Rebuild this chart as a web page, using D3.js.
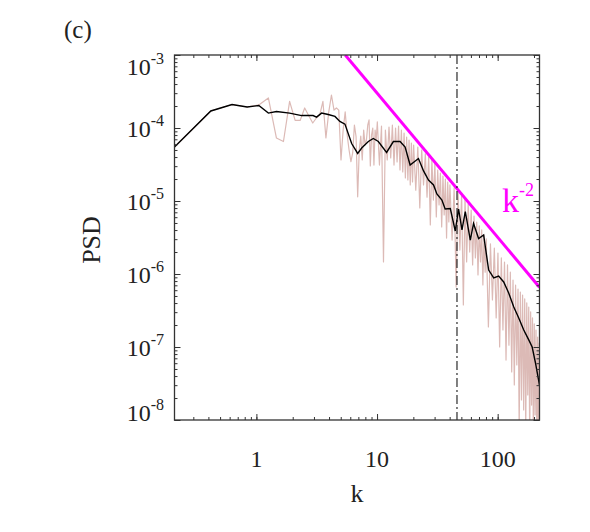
<!DOCTYPE html>
<html><head><meta charset="utf-8">
<script src="https://cdn.jsdelivr.net/npm/d3@7"></script>
<style>body{margin:0;background:#fff}</style>
</head><body><svg id="c" width="590" height="532"></svg>
<script>
// ---- data ----
const dk = 2 * Math.PI / 30;            // wavenumber spacing
const rawModes = [
  1,2,3,4,5,6,7,8,9,10,11,12,13,14,15,16,17,18,19,20,21,22,23,24,25,26,27,28,29,30,
  31,32,33,34,35,36,37,38,39,40,41,42,43,44,45,46,47,
  48,50,52,54,56,58,60,62,64,66,68,70,72,74,76,78,80,82,84,86,88,90,92,94,
  96,100,104,108,112,116,120,124,128,132,136,140,144,148,152,156,160,164,168,172,176,180,184,188,192,
  200,208,216,224,232,240,248,256,264,272,280,288,296,304,312,320,328,336,344,352,360,368,376,384,
  400,416,432,448,464,480,496,512,528,544,560,576,592,608,624,640,656,672,688,704,720,736,752,768,
  784,800,816,832,848,864,880,896,912,928,944,960,976,992,1008,1024,1040,1056,1060
];
const rawPSD = [
  5.5e-5,1.71e-4,2.10e-4,1.94e-4,2.07e-4,2.58e-4,7.29e-5,6.53e-5,2.31e-4,1.27e-4,
  1.27e-4,1.88e-4,1.46e-4,1.17e-4,1.37e-4,1.51e-4,2.31e-4,7.29e-5,1.66e-4,2.83e-4,
  1.76e-4,1.88e-4,1.76e-4,3.65e-5,9.39e-5,1.66e-4,8.02e-5,5.00e-5,3.45e-5,4.55e-5,
  1.10e-4,7.60e-5,1.14e-5,5.00e-5,7.77e-5,3.65e-5,9.39e-5,5.85e-5,6.85e-5,1.10e-4,
  1.29e-4,3.02e-5,8.02e-5,1.00e-4,3.11e-5,9.39e-5,6.85e-5,
  1.21e-4,3.11e-5,1.06e-4,1.46e-6,9.39e-5,3.65e-5,1.03e-4,3.88e-5,1.10e-4,3.11e-5,
  1.00e-4,3.42e-5,1.06e-4,2.66e-5,9.39e-5,2.50e-5,8.54e-5,2.07e-5,7.53e-5,1.94e-5,
  6.85e-5,1.66e-5,6.23e-5,1.82e-5,
  5.85e-5,1.41e-5,5.49e-5,8.02e-6,5.00e-5,1.66e-5,4.41e-5,1.13e-5,4.01e-5,4.69e-6,
  3.65e-5,1.03e-5,3.21e-5,6.04e-6,2.66e-5,8.82e-6,2.42e-5,4.41e-6,2.20e-5,6.43e-6,
  2.00e-5,3.11e-6,1.82e-5,5.16e-6,1.66e-5,
  2.92e-6,1.51e-5,6.63e-7,1.41e-5,2.13e-6,1.25e-5,3.76e-7,1.10e-5,1.46e-6,9.10e-6,
  2.00e-6,7.53e-6,1.33e-6,6.23e-6,1.66e-6,5.16e-6,9.69e-7,4.55e-6,1.46e-6,4.01e-6,
  7.07e-7,3.42e-6,1.06e-6,3.02e-6,
  1.88e-7,2.58e-6,4.41e-7,2.27e-6,2.50e-7,1.94e-6,1.00e-7,1.66e-6,1.71e-7,1.46e-6,
  6.63e-8,1.33e-6,1.06e-7,1.06e-6,4.55e-8,8.28e-7,3.02e-8,7.07e-7,5.67e-8,6.23e-7,
  7.29e-9,5.67e-7,1.88e-8,5.16e-7,1.37e-8,4.55e-7,7.29e-9,4.01e-7,2.20e-8,3.53e-7,
  5.32e-9,3.02e-7,1.60e-8,2.50e-7,6.23e-9,2.07e-7,1.17e-8,1.71e-7,5.32e-9,1.37e-7,
  4.55e-9,1.13e-7,7.29e-9
];
const smoothK = [
  0.2094,0.419,0.628,0.838,1.047,1.257,1.466,1.885,2.37,2.95,3.15,3.47,3.94,4.48,4.92,
  5.42,6.16,6.91,7.46,8.47,9.31,10.25,12.0,13.66,15.53,17.09,18.8,22.04,24.3,26.69,
  29.4,31.35,34.5,36.7,40.5,44.5,47.4,50.6,53.9,59.3,63.1,69.5,76.5,84.2,92.7,
  101.9,112.2,123.4,136,149.5,164.5,181,193.2,205.8,213,222
];
const smoothPSD = [
  5.49e-5,1.71e-4,2.10e-4,1.94e-4,2.03e-4,1.60e-4,1.68e-4,1.60e-4,1.48e-4,1.48e-4,
  1.41e-4,1.60e-4,1.53e-4,1.44e-4,1.23e-4,1.13e-4,6.13e-5,4.48e-5,5.32e-5,6.53e-5,
  7.18e-5,6.53e-5,4.62e-5,6.53e-5,6.53e-5,5.49e-5,3.11e-5,3.82e-5,2.58e-5,1.94e-5,
  1.66e-5,1.25e-5,1.03e-5,7.77e-6,7.89e-6,3.88e-6,7.77e-6,4.01e-6,7.18e-6,2.92e-6,
  4.92e-6,3.06e-6,3.42e-6,1.13e-6,8.82e-7,9.39e-7,7.77e-7,5.49e-7,3.53e-7,2.50e-7,
  1.71e-7,1.25e-7,1.00e-7,6.04e-8,4.41e-8,3.02e-8
];
const refK = [5.45, 222];
const refPSD = [1.0e-3, 6.6e-7];
const refLabel = "k";
const refExponent = "-2";
const cutoffK = 46;
const xDomain = [dk, 222.2];
const yDomain = [1e-8, 1e-3];
const xTicks = [1, 10, 100];
const xTickLabels = ["1", "10", "100"];
const yTicks = [1e-3, 1e-4, 1e-5, 1e-6, 1e-7, 1e-8];
const yTickExps = ["-3", "-4", "-5", "-6", "-7", "-8"];
const xLabel = "k", yLabel = "PSD", panel = "(c)";

// ---- layout ----
const L = 174.5, R = 539.5, T = 55, B = 420;
const FONT = "'Liberation Serif', 'Times New Roman', serif";
const svg = d3.select("#c");
const x = d3.scaleLog().domain(xDomain).range([L, R]);
const y = d3.scaleLog().domain(yDomain).range([B, T]);

svg.append("defs").append("clipPath").attr("id", "clip")
  .append("rect").attr("x", L).attr("y", T).attr("width", R - L).attr("height", B - T);
const g = svg.append("g").attr("clip-path", "url(#clip)");

const line = d3.line().x(d => x(d[0])).y(d => y(d[1]));
const raw = rawModes.map((n, i) => [n * dk, rawPSD[i]]);
const smooth = smoothK.map((k, i) => [k, smoothPSD[i]]);
const ref = refK.map((k, i) => [k, refPSD[i]]);

g.append("path").attr("d", line(raw)).attr("fill", "none")
  .attr("stroke", "#dcbab6").attr("stroke-width", 1.2).attr("stroke-linejoin", "round");
g.append("path").attr("d", line(smooth)).attr("fill", "none")
  .attr("stroke", "#000").attr("stroke-width", 1.4);
g.append("path").attr("d", line(ref)).attr("fill", "none")
  .attr("stroke", "#ff00ff").attr("stroke-width", 3);
g.append("line").attr("x1", x(cutoffK)).attr("x2", x(cutoffK)).attr("y1", T).attr("y2", B)
  .attr("stroke", "#000").attr("stroke-width", 1).attr("stroke-dasharray", "9,3,2,3");

// ---- axes ----
const axisColor = "#333";
function minorVals(domain) {
  const out = [];
  for (let e = -9; e <= 3; e++) for (let m = 1; m <= 9; m++) {
    const v = m * Math.pow(10, e);
    if (v >= domain[0] * 0.999 && v <= domain[1] * 1.001) out.push(v);
  }
  return out;
}
const xMinor = minorVals(xDomain), yMinor = minorVals(yDomain);

function styleAxis(sel) {
  sel.select(".domain").remove();
  sel.selectAll("line").attr("stroke", axisColor);
  sel.selectAll("text").remove();
}
svg.append("g").attr("transform", `translate(0,${B})`)
  .call(d3.axisBottom(x).tickValues(xMinor).tickSize(-3)).call(styleAxis);
svg.append("g").attr("transform", `translate(0,${B})`)
  .call(d3.axisBottom(x).tickValues(xTicks).tickSize(-6)).call(styleAxis);
svg.append("g").attr("transform", `translate(0,${T})`)
  .call(d3.axisTop(x).tickValues(xMinor).tickSize(-3)).call(styleAxis);
svg.append("g").attr("transform", `translate(0,${T})`)
  .call(d3.axisTop(x).tickValues(xTicks).tickSize(-6)).call(styleAxis);
svg.append("g").attr("transform", `translate(${L},0)`)
  .call(d3.axisLeft(y).tickValues(yMinor).tickSize(-3)).call(styleAxis);
svg.append("g").attr("transform", `translate(${L},0)`)
  .call(d3.axisLeft(y).tickValues(yTicks).tickSize(-6)).call(styleAxis);
svg.append("g").attr("transform", `translate(${R},0)`)
  .call(d3.axisRight(y).tickValues(yMinor).tickSize(-3)).call(styleAxis);
svg.append("g").attr("transform", `translate(${R},0)`)
  .call(d3.axisRight(y).tickValues(yTicks).tickSize(-6)).call(styleAxis);

svg.append("rect").attr("x", L).attr("y", T).attr("width", R - L).attr("height", B - T)
  .attr("fill", "none").attr("stroke", axisColor).attr("stroke-width", 1.3);

// x tick labels
svg.append("g").selectAll("text").data(xTicks).join("text")
  .attr("x", d => x(d)).attr("y", 467).attr("text-anchor", "middle")
  .attr("font-family", FONT).attr("font-size", 24).attr("fill", "#222")
  .text((d, i) => xTickLabels[i]);

// y tick labels
const yl = svg.append("g").selectAll("text").data(yTicks).join("text")
  .attr("x", 164)
  .attr("y", (d, i) => y(d) + (i === 0 ? 20 : (i === yTicks.length - 1 ? 1 : 9)))
  .attr("text-anchor", "end").attr("font-family", FONT).attr("fill", "#222");
yl.append("tspan").attr("font-size", 24).text("10");
yl.append("tspan").attr("font-size", 16).attr("dy", -11).text((d, i) => yTickExps[i]);

// axis labels
svg.append("text").attr("x", 357).attr("y", 502).attr("text-anchor", "middle")
  .attr("font-family", FONT).attr("font-size", 26).attr("fill", "#222").text(xLabel);
svg.append("text").attr("transform", "translate(100,240) rotate(-90)").attr("text-anchor", "middle")
  .attr("font-family", FONT).attr("font-size", 26).attr("fill", "#222").text(yLabel);
svg.append("text").attr("x", 64).attr("y", 38)
  .attr("font-family", FONT).attr("font-size", 25).attr("fill", "#222").text(panel);

// reference-line label
const rl = svg.append("text").attr("x", 502).attr("y", 212)
  .attr("font-family", FONT).attr("fill", "#ff00ff");
rl.append("tspan").attr("font-size", 34).text(refLabel);
rl.append("tspan").attr("font-size", 18).attr("dy", -16).text(refExponent);
</script></body></html>
